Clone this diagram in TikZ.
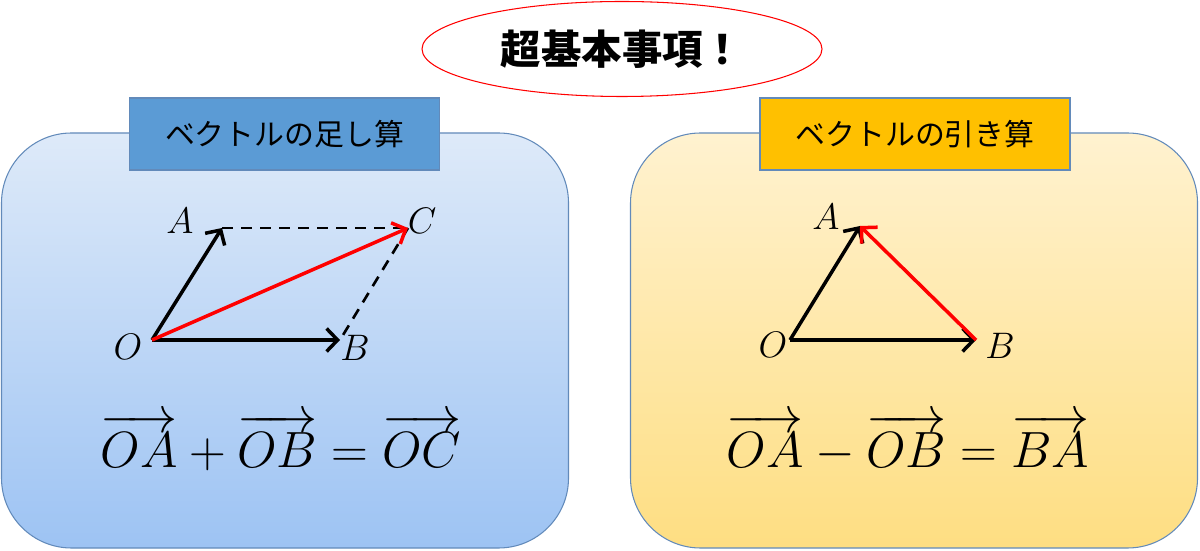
\RequirePackage{fix-cm}
\documentclass[tikz,border=0pt]{standalone}
\usepackage{fontspec}
\usepackage{amsmath}
\newfontfamily\jpfont{Noto Sans CJK JP}
\usetikzlibrary{shapes.geometric, arrows.meta}
\definecolor{addtop}{RGB}{222,234,249}
\definecolor{addbottom}{RGB}{157,195,243}
\definecolor{subtop}{RGB}{255,242,208}
\definecolor{subbottom}{RGB}{254,222,130}
\definecolor{panelline}{RGB}{98,138,186}
\definecolor{addtitle}{RGB}{91,155,213}
\definecolor{subtitle}{RGB}{255,192,0}
\tikzstyle{panel} = [rectangle, rounded corners=1.4cm, minimum width=11.34cm, minimum height=8.3cm, draw=panelline, line width=0.6pt]
\tikzstyle{titlebox} = [rectangle, minimum width=6.2cm, minimum height=1.44cm, draw=panelline, line width=0.6pt, font=\jpfont\fontsize{17}{20}\selectfont]
\tikzstyle{vec} = [line width=2pt, -{Straight Barb[length=2.2mm,width=4.6mm]}]
\tikzstyle{redvec} = [vec, red]
\tikzstyle{dashline} = [line width=1.5pt, dash pattern=on 2.2mm off 1.6mm]
\tikzstyle{pt} = [font=\fontsize{21}{25}\selectfont, inner sep=0pt]
\tikzstyle{formula} = [font=\fontsize{29}{34}\selectfont, inner sep=0pt]

\begin{document}
\begin{tikzpicture}
    \useasboundingbox (0,0) rectangle (24,11);

    \node (headline) [ellipse, draw=red, line width=0.6pt, minimum width=8cm, minimum height=1.9cm, font=\jpfont\bfseries\fontsize{23}{26}\selectfont] at (12.44,10.02) {超基本事項！};

    \node (addpanel) [panel, top color=addtop, bottom color=addbottom] at (5.7,4.19) {};
    \node (subpanel) [panel, top color=subtop, bottom color=subbottom] at (18.28,4.19) {};
    \node (addtitle) [titlebox, fill=addtitle] at (5.69,8.32) {ベクトルの足し算};
    \node (subtitle) [titlebox, fill=subtitle] at (18.3,8.32) {ベクトルの引き算};

    % addition
    \coordinate (addO) at (3.04,4.2);
    \coordinate (addA) at (4.44,6.44);
    \coordinate (addB) at (6.8,4.2);
    \coordinate (addC) at (8.16,6.44);
    \node (addlabelO) [pt] at (2.56,4.06) {$O$};
    \node (addlabelA) [pt] at (3.6,6.58) {$A$};
    \node (addlabelB) [pt] at (7.1,4.04) {$B$};
    \node (addlabelC) [pt] at (8.44,6.58) {$C$};
    \draw [dashline] (addA) -- (addC);
    \draw [dashline] (addC) -- (addB);
    \draw [vec] (addO) -- (addA);
    \draw [vec] (addO) -- (addB);
    \draw [redvec] (addO) -- (addC);
    \node (addformula) [formula] at (5.62,2.15) {$\overrightarrow{OA}+\overrightarrow{OB}=\overrightarrow{OC}$};

    % subtraction
    \coordinate (subO) at (15.8,4.2);
    \coordinate (subA) at (17.2,6.48);
    \coordinate (subB) at (19.52,4.2);
    \node (sublabelO) [pt] at (15.46,4.1) {$O$};
    \node (sublabelA) [pt] at (16.52,6.66) {$A$};
    \node (sublabelB) [pt] at (20,4.08) {$B$};
    \draw [vec] (subO) -- (subA);
    \draw [vec] (subO) -- (subB);
    \draw [redvec] (subB) -- (subA);
    \node (subformula) [formula] at (18.16,2.15) {$\overrightarrow{OA}-\overrightarrow{OB}=\overrightarrow{BA}$};

\end{tikzpicture}
\end{document}
